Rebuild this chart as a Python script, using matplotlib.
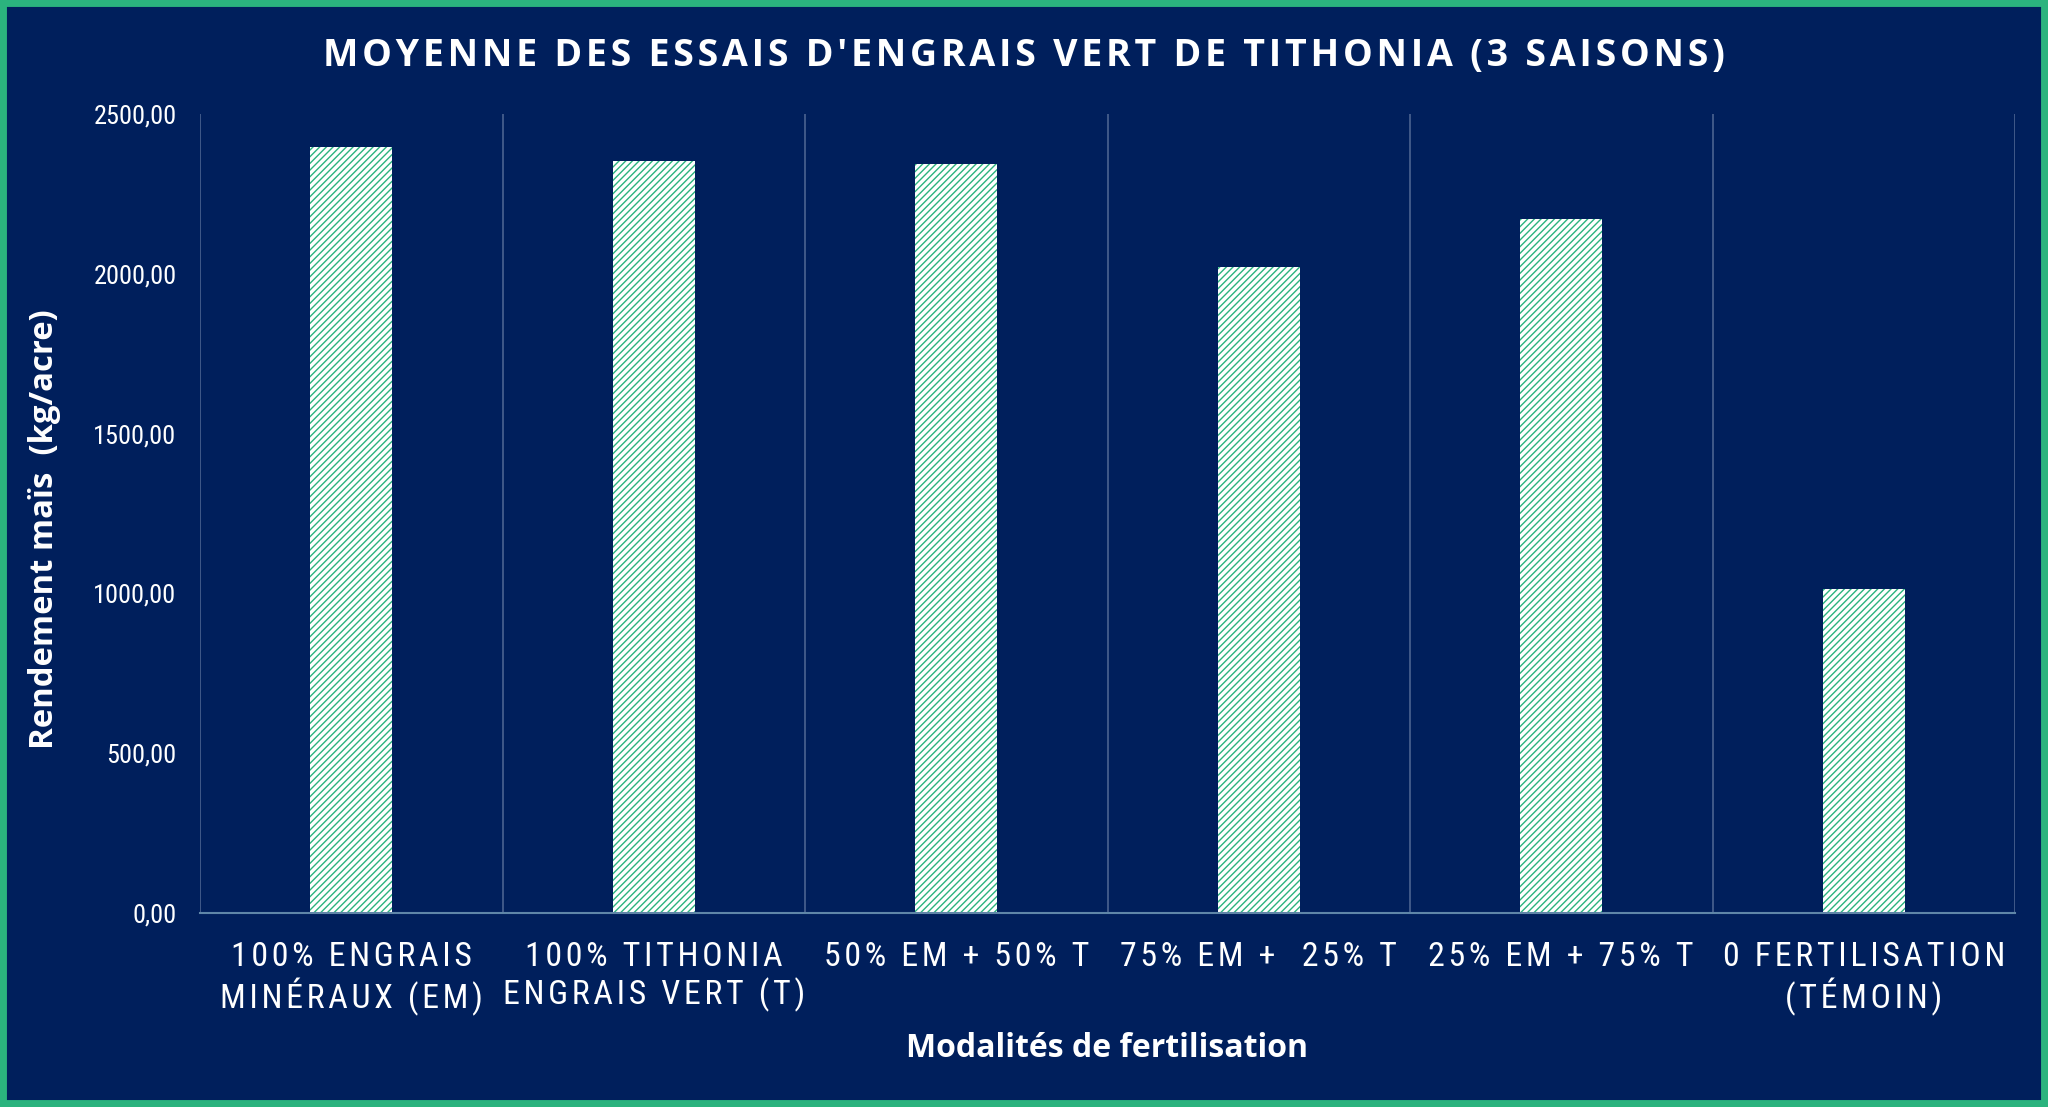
import numpy as np
import matplotlib.pyplot as plt
from matplotlib import font_manager
from matplotlib.patches import Rectangle
from matplotlib.ticker import FuncFormatter

# Colours
navy = "#001f5c"
green = "#2bb37e"
sep = "#4b6390"

# Data
categories = ["100% ENGRAIS\nMINÉRAUX (EM)", "100% TITHONIA\nENGRAIS VERT (T)",
              "50% EM + 50% T", "75% EM +  25% T", "25% EM + 75% T",
              "0 FERTILISATION\n(TÉMOIN)"]
rendement = [2398, 2353, 2345, 2022, 2173, 1013]

installed = {f.name for f in font_manager.fontManager.ttflist}
narrow_fonts = [n for n in ["Roboto Condensed", "Liberation Sans Narrow", "Open Sans Condensed",
                            "Noto Sans Display", "Roboto"] if n in installed]
narrow = narrow_fonts[:1] + ["DejaVu Sans"]


def spaced(s, sp="\u200a"):
    # crude letter spacing
    return "\n".join(sp.join(line) for line in s.split("\n"))


fig = plt.figure(figsize=(20.48, 11.07), dpi=100, facecolor=navy)
ax = fig.add_axes([200 / 2048, 1 - 913 / 1107, (2015 - 200) / 2048, (913 - 114) / 1107])
ax.set_facecolor(navy)

x = np.arange(len(categories))
ax.bar(x, rendement, width=0.27, color="white", edgecolor=green, linewidth=0, hatch="/////")

# separators between categories
for b in np.arange(-0.5, len(categories), 1.0):
    ax.axvline(b, color=sep, lw=1.2, zorder=0)

ax.set_xlim(-0.5, len(categories) - 0.5)
ax.set_ylim(0, 2500)
ax.set_yticks(np.arange(0, 2501, 500))
ax.yaxis.set_major_formatter(FuncFormatter(lambda v, p: f"{v:.2f}".replace(".", ",")))
ax.set_xticks(x)
ax.set_xticklabels([spaced(c) for c in categories], family=narrow, fontstretch="condensed",
                   fontsize=24.5, color="white", linespacing=1.16)
for lab in ax.get_yticklabels():
    lab.set_family(narrow)
    lab.set_fontstretch("condensed")
    lab.set_fontsize(19)
    lab.set_color("white")
ax.tick_params(axis="both", length=0)
ax.tick_params(axis="x", pad=20)
ax.tick_params(axis="y", pad=17)

for s in ["top", "right", "left"]:
    ax.spines[s].set_visible(False)
ax.spines["bottom"].set_color("#5f86a8")
ax.spines["bottom"].set_linewidth(1.5)

ax.set_xlabel("Modalités de fertilisation", family="Open Sans", fontweight="bold",
              fontsize=23, color="white", labelpad=12)
ax.set_ylabel("Rendement maïs  (kg/acre)", family="Open Sans", fontweight="bold",
              fontsize=23.7, color="white", labelpad=23)
ax.yaxis.label.set_y(0.48)

fig.text(0.5, 1 - 56 / 1107, spaced("MOYENNE DES ESSAIS D'ENGRAIS VERT DE TITHONIA (3 SAISONS)"),
         ha="center", va="center", family=["Open Sans", "DejaVu Sans"], fontweight="bold",
         fontsize=27, color="white")

# green frame
fig.patches.append(Rectangle((0, 0), 1, 1, transform=fig.transFigure, fill=False,
                             edgecolor=green, linewidth=10, zorder=10))

fig.savefig("out.png", dpi=100, facecolor=navy)
